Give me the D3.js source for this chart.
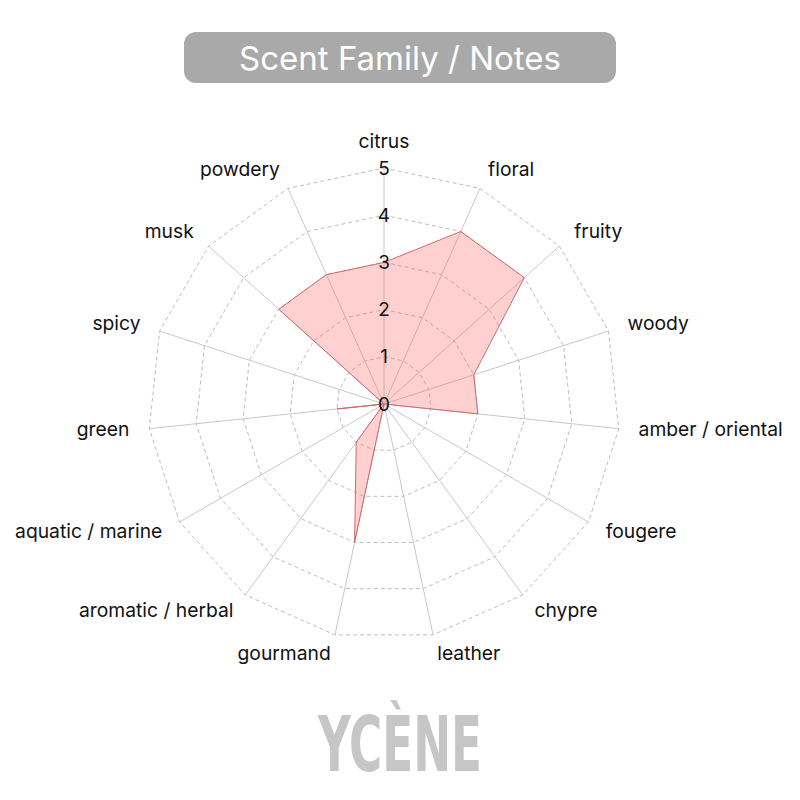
<!DOCTYPE html>
<html>
<head>
<meta charset="utf-8">
<script src="https://cdn.jsdelivr.net/npm/d3@7"></script>
<style>
  html, body { margin: 0; padding: 0; background: #fff; }
  svg { display: block; }
</style>
</head>
<body>
<div id="chart"></div>
<script>
const title = "Scent Family / Notes";
const brand = "YCÈNE";
const categories = ["citrus", "floral", "fruity", "woody", "amber / oriental", "fougere", "chypre", "leather", "gourmand", "aromatic / herbal", "aquatic / marine", "green", "spicy", "musk", "powdery"];
const values = [3, 4, 4, 2, 2, 0, 0, 0, 3, 1, 0, 1, 0, 3, 3];
const ticks = [0, 1, 2, 3, 4, 5];

const W = 800, H = 800;
const cx = 384, cy = 404, R = 236;
const labelFont = "Inter, 'Open Sans', sans-serif";

const svg = d3.select("#chart").append("svg").attr("width", W).attr("height", H);

// title
svg.append("rect").attr("x", 184).attr("y", 32).attr("width", 432).attr("height", 51)
  .attr("rx", 12).attr("fill", "#a9a9a9");
svg.append("text").attr("x", 400).attr("y", 58).attr("text-anchor", "middle")
  .attr("dominant-baseline", "central").attr("fill", "#fff")
  .style("font-family", labelFont).style("font-size", "33px").text(title);

const angle = d3.scaleLinear().domain([0, categories.length]).range([0, 2 * Math.PI]);
const r = d3.scaleLinear().domain([0, 5]).range([0, R]);
const pt = (i, v) => [cx + r(v) * Math.sin(angle(i)), cy - r(v) * Math.cos(angle(i))];

const g = svg.append("g");

// grid rings
ticks.filter(t => t > 0).forEach(t => {
  g.append("path")
    .attr("d", d3.line()(categories.map((c, i) => pt(i, t))) + "Z")
    .attr("fill", "none").attr("stroke", "#bdbdbd").attr("stroke-width", 1)
    .attr("stroke-dasharray", "4,3");
});
// spokes
categories.forEach((c, i) => {
  const [x, y] = pt(i, 5);
  g.append("line").attr("x1", cx).attr("y1", cy).attr("x2", x).attr("y2", y)
    .attr("stroke", "#c8c8c8").attr("stroke-width", 1);
});

// data polygon
g.append("path")
  .attr("d", d3.line()(values.map((v, i) => pt(i, v))) + "Z")
  .attr("fill", "rgba(255,99,99,0.3)")
  .attr("stroke", "#cf6b6b").attr("stroke-width", 1);

// tick labels
ticks.forEach(t => {
  g.append("text").attr("x", cx).attr("y", cy - r(t))
    .attr("text-anchor", "middle").attr("dominant-baseline", "central")
    .attr("fill", "#111").style("font-family", labelFont).style("font-size", "19px")
    .text(t);
});

// category labels
const LR = R + 20;
categories.forEach((c, i) => {
  const a = angle(i);
  const s = Math.sin(a), co = Math.cos(a);
  let x = cx + LR * s, y = cy - LR * co - 1.5;
  let anchor = "middle";
  if (s > 0.01) anchor = "start";
  else if (s < -0.01) anchor = "end";
  else y -= 6;
  g.append("text").attr("x", x).attr("y", y)
    .attr("text-anchor", anchor).attr("dominant-baseline", "central")
    .attr("fill", "#111").style("font-family", labelFont).style("font-size", "19.3px")
    .text(c);
});

// brand
svg.append("text").attr("x", 400).attr("y", 771).attr("text-anchor", "middle")
  .attr("fill", "#c6c6c6")
  .style("font-family", "'Liberation Sans Narrow', 'DejaVu Sans Condensed', sans-serif")
  .style("font-weight", "bold").style("font-size", "76px")
  .attr("textLength", 164).attr("lengthAdjust", "spacingAndGlyphs")
  .text(brand);
</script>
</body>
</html>
